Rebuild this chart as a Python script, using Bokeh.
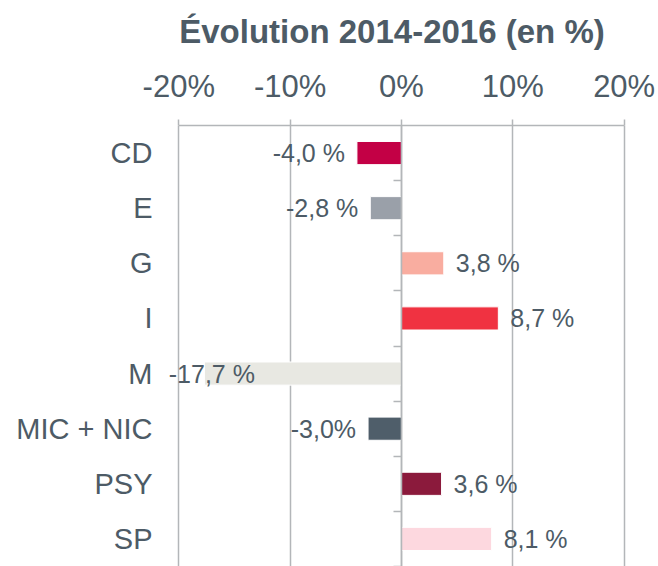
from bokeh.plotting import figure
from bokeh.models import LinearAxis, FixedTicker, ColumnDataSource, Range1d
from bokeh.core.properties import value
from bokeh.embed import file_html
from bokeh.resources import INLINE

categories = ["CD", "E", "G", "I", "M", "MIC + NIC", "PSY", "SP"]
values = [-4.0, -2.8, 3.8, 8.7, -17.7, -3.0, 3.6, 8.1]
value_labels = ["-4,0 %", "-2,8 %", "3,8 %", "8,7 %", "-17,7 %", "-3,0%", "3,6 %", "8,1 %"]
bar_colors = ["#c30045", "#9aa0a9", "#f9ada0", "#f03241", "#e8e8e2", "#4f5e6a", "#8b1a3c", "#fdd8df"]
x_ticks = [-20, -10, 0, 10, 20]
x_tick_labels = ["-20%", "-10%", "0%", "10%", "20%"]
title_text = "Évolution 2014-2016 (en %)"

FONT = "Liberation Sans"
TXT = "#4d5b66"
GRID = "#b3b6b9"

n = len(categories)
pos = [i + 0.5 for i in range(n)]

p = figure(width=658, height=566, x_range=Range1d(-22, 20.3), y_range=Range1d(n, 0),
           x_axis_location="above", output_backend="svg", toolbar_location=None,
           min_border_left=156, min_border_right=31, min_border_bottom=0, min_border_top=125)
p.outline_line_color = None
p.background_fill_color = "white"

xa = p.xaxis[0]
xa.ticker = FixedTicker(ticks=x_ticks)
xa.bounds = (x_ticks[0], x_ticks[-1])
xa.major_label_overrides = {t: l for t, l in zip(x_ticks, x_tick_labels)}
xa.major_label_text_font = FONT
xa.major_label_text_font_size = "31px"
xa.major_label_text_color = TXT
xa.major_label_standoff = 16
xa.axis_line_color = GRID
xa.axis_line_width = 1.5
xa.major_tick_line_color = GRID
xa.major_tick_line_width = 1.5
xa.major_tick_out = 6
xa.major_tick_in = 0
xa.minor_tick_line_color = None
# chart title drawn as the top axis label
xa.axis_label = title_text
xa.axis_label_text_font = FONT
xa.axis_label_text_font_size = "33px"
xa.axis_label_text_font_style = "bold"
xa.axis_label_text_color = TXT
xa.axis_label_standoff = 16

ya = p.yaxis[0]
ya.ticker = FixedTicker(ticks=pos)
ya.major_label_overrides = {t: c for t, c in zip(pos, categories)}
ya.major_label_text_font = FONT
ya.major_label_text_font_size = "29px"
ya.major_label_text_color = TXT
ya.major_label_standoff = 4
ya.axis_line_color = None
ya.major_tick_line_color = None
ya.major_tick_out = 0
ya.major_tick_in = 0
ya.minor_tick_line_color = None

bounds_ticks = list(range(1, n + 1))
zero_axis = LinearAxis(fixed_location=0, ticker=FixedTicker(ticks=bounds_ticks),
                       axis_line_color=GRID, axis_line_width=1.5,
                       major_tick_line_color=GRID, major_tick_line_width=1.5,
                       major_tick_out=0, major_tick_in=8, minor_tick_line_color=None,
                       major_label_overrides={t: "" for t in bounds_ticks},
                       major_label_standoff=0)
p.add_layout(zero_axis, "right")

p.xgrid.ticker = FixedTicker(ticks=x_ticks)
p.xgrid.grid_line_color = GRID
p.xgrid.grid_line_width = 1.5
p.ygrid.grid_line_color = None

src = ColumnDataSource(dict(y=pos, v=values, c=bar_colors))
p.hbar(y="y", left=0, right="v", height=0.42, fill_color="c", line_color="white", line_width=1, source=src)

# value labels: right of positive bars, left of negative bars; very long negative bar label starts at left edge
lx, ly, lt, rx, ry, rt, mx, my, mt = [], [], [], [], [], [], [], [], []
for yv, v, t in zip(pos, values, value_labels):
    if v >= 0:
        lx.append(v); ly.append(yv); lt.append(t)
    elif v > -15:
        rx.append(v); ry.append(yv); rt.append(t)
    else:
        mx.append(x_ticks[0]); my.append(yv); mt.append(t)

common = dict(text_font=value(FONT), text_font_size="25px", text_color=TXT, text_baseline="middle")
p.text(x=lx, y=ly, text=lt, text_align="left", x_offset=12, **common)
p.text(x=rx, y=ry, text=rt, text_align="right", x_offset=-12, **common)
p.text(x=mx, y=my, text=mt, text_align="left", x_offset=-10, **common)

open("out.html", "w").write(file_html(p, INLINE))
